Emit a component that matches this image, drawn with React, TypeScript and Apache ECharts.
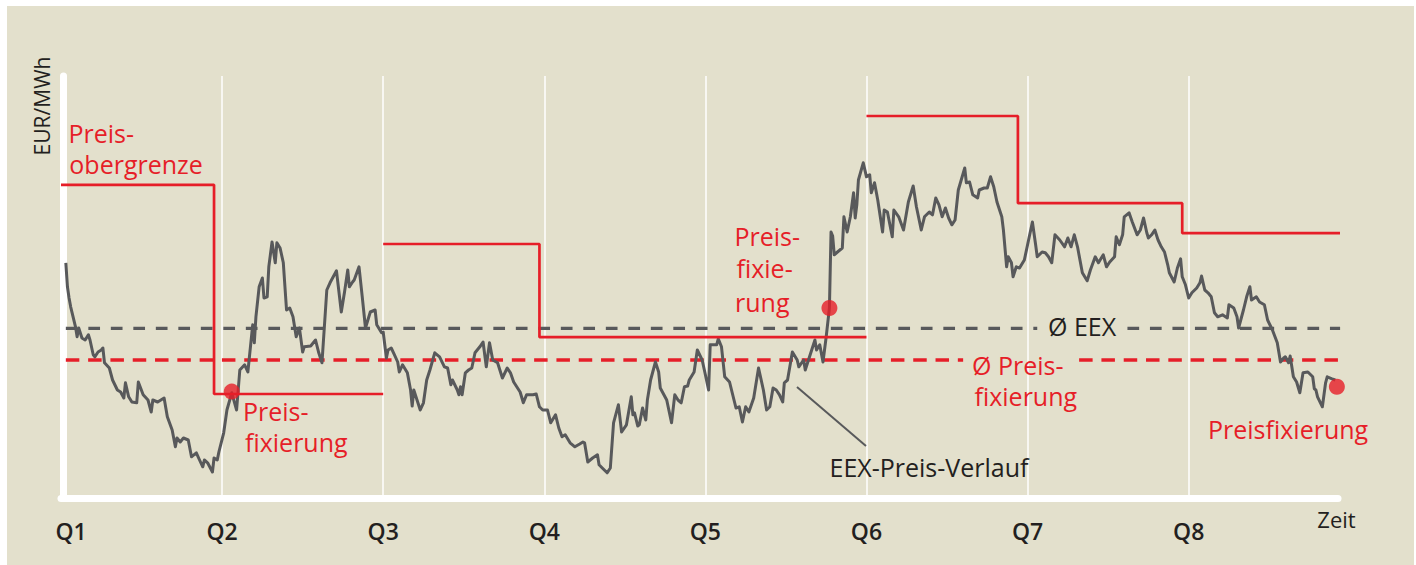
import React, { useEffect, useRef } from "react";
import * as echarts from "echarts";

// ---------- data ----------
const quarterLabels = ["Q1", "Q2", "Q3", "Q4", "Q5", "Q6", "Q7", "Q8"];

// EEX price path: [time in quarters since Q1, EUR/MWh]
const priceQ1: [number, number][] = [
  [0.03, 58.8], [0.04, 52.8], [0.05, 50], [0.06, 47.8], [0.09, 42.8], [0.1, 40.3], [0.11, 42.5], [0.13, 40],
  [0.15, 39.5], [0.17, 40.8], [0.18, 39.5], [0.2, 35.8], [0.21, 35.3], [0.23, 36.5], [0.25, 37], [0.26, 37.5],
  [0.27, 33.8], [0.3, 32.5], [0.32, 29.5], [0.35, 27], [0.37, 26.5], [0.39, 25], [0.4, 28.8], [0.42, 25.3],
  [0.44, 24], [0.47, 23.8], [0.48, 29], [0.51, 25.8], [0.54, 24.5], [0.56, 21.5], [0.57, 24.5], [0.6, 24],
  [0.64, 25], [0.66, 20.3], [0.69, 17], [0.71, 12.8], [0.72, 15], [0.74, 14], [0.76, 15], [0.79, 14.5],
  [0.81, 10.3], [0.84, 11.3], [0.86, 9.5], [0.88, 7.8], [0.89, 9.5], [0.91, 8.8], [0.94, 6.5], [0.95, 10],
  [0.97, 9.5], [0.98, 11.5],
];
const priceQ2: [number, number][] = [
  [1.01, 16.3], [1.03, 22], [1.06, 26.3], [1.09, 22], [1.11, 32], [1.14, 33.3], [1.16, 31.5], [1.19, 43.3],
  [1.2, 38.8], [1.21, 45.3], [1.23, 52.8], [1.25, 55], [1.26, 50], [1.28, 50.3], [1.29, 57.8], [1.31, 64],
  [1.33, 58.8], [1.34, 63.8], [1.36, 62.5], [1.38, 58.8], [1.4, 47], [1.42, 47.5], [1.44, 45.3], [1.46, 40.3],
  [1.48, 42.5], [1.5, 36.5], [1.51, 37.8], [1.55, 38], [1.58, 39.5], [1.6, 36.3], [1.62, 33.8], [1.65, 52],
  [1.67, 53.8], [1.71, 56.8], [1.74, 46.5], [1.76, 51.5], [1.78, 57], [1.79, 52.8], [1.81, 54], [1.82, 54.5],
  [1.85, 57.8], [1.87, 50.3], [1.89, 42.5], [1.92, 46.5], [1.95, 47], [1.96, 43.3], [1.99, 41.3], [2.0, 41.5],
];
const priceQ3: [number, number][] = [
  [2.02, 35], [2.03, 37], [2.05, 37.5], [2.07, 35.8], [2.09, 34], [2.1, 31.5], [2.12, 33.3], [2.15, 31.3],
  [2.17, 27], [2.18, 23], [2.19, 27], [2.21, 24.5], [2.23, 22], [2.25, 23.8], [2.27, 29.5], [2.29, 32],
  [2.32, 36.3], [2.35, 35.3], [2.38, 32.8], [2.4, 32.5], [2.42, 28.3], [2.43, 29.5], [2.46, 27], [2.47, 25.8],
  [2.48, 27.8], [2.49, 25.8], [2.51, 31.3], [2.53, 32], [2.55, 32.5], [2.57, 36.3], [2.6, 37.8], [2.62, 39],
  [2.64, 32.8], [2.66, 38.8], [2.68, 34.5], [2.71, 33.8], [2.74, 30], [2.77, 32.5], [2.79, 31.3], [2.81, 29],
  [2.85, 26.5], [2.87, 23.8], [2.89, 25.8], [2.93, 25.8], [2.95, 26], [2.97, 22.8], [2.99, 22],
];
const priceQ4: [number, number][] = [
  [3.02, 22], [3.04, 18.8], [3.07, 20.8], [3.09, 17.5], [3.11, 15.3], [3.13, 15.8], [3.16, 13.8], [3.19, 12.8],
  [3.22, 13.5], [3.24, 14], [3.25, 13.8], [3.27, 9], [3.3, 10], [3.33, 10.8], [3.34, 8.3], [3.36, 7.5],
  [3.39, 6.3], [3.41, 7.5], [3.43, 18.8], [3.46, 23.3], [3.48, 16.5], [3.51, 18.3], [3.54, 25.3], [3.55, 20.8],
  [3.56, 21.3], [3.58, 18], [3.59, 18.3], [3.61, 22.5], [3.63, 19.5], [3.64, 24.5], [3.66, 29.5], [3.69, 34],
  [3.71, 31.5], [3.72, 27.5], [3.76, 24.5], [3.79, 18.8], [3.81, 25.8], [3.83, 24.5], [3.85, 23.8], [3.87, 27.8],
  [3.89, 28], [3.9, 29.5], [3.93, 31.5], [3.95, 37], [3.98, 34.5], [4.0, 30.8],
];
const priceQ5: [number, number][] = [
  [4.02, 27], [4.03, 38.3], [4.07, 38.3], [4.08, 39.8], [4.1, 37.8], [4.12, 30.3], [4.15, 29], [4.19, 22.5],
  [4.21, 22.8], [4.23, 19], [4.25, 22.8], [4.27, 21.5], [4.3, 25], [4.33, 32.5], [4.36, 27], [4.38, 22],
  [4.4, 22.8], [4.42, 27.5], [4.44, 27], [4.46, 25.8], [4.48, 24], [4.49, 28.8], [4.51, 29.5], [4.54, 36.5],
  [4.57, 34.5], [4.58, 32.8], [4.61, 34.5], [4.62, 32], [4.64, 34.5], [4.66, 37], [4.68, 39.5], [4.69, 37],
  [4.71, 38.3], [4.73, 34], [4.75, 40.3], [4.77, 47.5], [4.78, 66.5], [4.79, 65.5], [4.8, 60.8], [4.82, 61.5],
  [4.85, 62.5], [4.86, 70.3], [4.88, 66.5], [4.9, 70.3], [4.92, 76.3], [4.93, 70], [4.94, 73.3], [4.95, 79.5],
  [4.98, 83.8], [5.0, 80.3],
];
const priceQ6: [number, number][] = [
  [5.02, 80.8], [5.03, 76.3], [5.05, 78.8], [5.07, 74.5], [5.1, 66.5], [5.11, 72], [5.13, 71.5], [5.16, 65.3],
  [5.17, 72], [5.2, 70.3], [5.23, 67], [5.26, 74], [5.29, 78], [5.31, 72.8], [5.34, 67], [5.36, 70.3],
  [5.39, 71.5], [5.41, 70.8], [5.43, 75], [5.45, 73.3], [5.47, 70.3], [5.49, 72.5], [5.51, 70], [5.53, 68.3],
  [5.55, 69.5], [5.57, 77], [5.61, 82.5], [5.62, 78.8], [5.64, 79], [5.66, 75.8], [5.69, 75], [5.7, 77],
  [5.73, 77.5], [5.75, 77.5], [5.77, 80.3], [5.79, 77.8], [5.81, 74], [5.84, 70.3], [5.85, 67], [5.87, 57.8],
  [5.88, 60.3], [5.9, 58.8], [5.91, 55.3], [5.93, 57.8], [5.95, 57.5], [5.98, 59.5], [6.0, 63.3],
];
const priceQ7: [number, number][] = [
  [6.03, 69], [6.05, 63.3], [6.06, 60.3], [6.09, 61.5], [6.11, 61.3], [6.13, 60.3], [6.15, 58.8], [6.17, 65.8],
  [6.2, 64.5], [6.23, 62.8], [6.25, 65], [6.27, 62.8], [6.29, 65.8], [6.31, 62.8], [6.34, 56.3], [6.37, 54.3],
  [6.39, 57], [6.42, 60.3], [6.44, 58.8], [6.47, 60.8], [6.49, 57.8], [6.51, 59], [6.54, 60.3], [6.55, 65.3],
  [6.57, 63.3], [6.59, 65.8], [6.6, 70.3], [6.63, 71.3], [6.65, 69], [6.68, 65.8], [6.7, 67], [6.72, 70],
  [6.74, 66.3], [6.75, 65], [6.77, 65.8], [6.79, 67], [6.81, 64.5], [6.83, 62.8], [6.85, 61.5], [6.87, 58.3],
  [6.88, 56.3], [6.91, 54], [6.93, 57.5], [6.95, 59.8], [6.96, 55.3], [6.98, 53.3], [7.0, 50],
];
const priceQ8: [number, number][] = [
  [7.02, 51.3], [7.05, 52.5], [7.07, 53.8], [7.08, 55.5], [7.1, 52], [7.12, 51.3], [7.14, 50.3], [7.16, 46.3],
  [7.18, 45.3], [7.21, 45.8], [7.24, 45], [7.25, 48.3], [7.28, 47.5], [7.3, 45.3], [7.31, 42.5], [7.34, 47],
  [7.36, 50.3], [7.38, 52.8], [7.39, 49.5], [7.42, 50.3], [7.44, 49], [7.47, 48.3], [7.49, 44.5], [7.52, 42],
  [7.55, 38.8], [7.57, 34], [7.59, 35], [7.6, 35.3], [7.62, 33.8], [7.63, 35.5], [7.65, 30.3], [7.67, 29],
  [7.69, 26.3], [7.71, 31.3], [7.74, 31.5], [7.77, 30.3], [7.78, 27.3], [7.79, 27], [7.8, 25.3], [7.83, 22.8],
  [7.85, 28.8], [7.86, 30.3], [7.89, 29.8], [7.91, 29.5],
];

// Price cap (Preisobergrenze): change times and levels per contract block
const capTimes = [[0, 0.95, 2.0], [2.0, 2.97, 5.0], [5.0, 5.94, 6.96, 7.94]];
const capLevels = [[78.3, 26.0], [63.5, 40.2], [95.5, 73.7, 66.2]];

// Price fixings
const fixTimes = [1.06, 4.77, 7.92];
const fixValues = [26.6, 47.5, 27.8];

// Averages
const eexAverage = 42.4;
const fixAverage = 34.5;
const eexDashRanges = [[0.03, 6.06], [6.62, 7.94]];
const fixDashRanges = [[0.03, 5.6], [6.32, 7.94]];

const timeMax = 7.927;
const priceMax = 105.5;

// ---------- styles ----------
const FONT = "'Open Sans', sans-serif";
const RED = "#e61e28";
const GRAY = "#58595b";
const DARK = "#231f20";
const BEIGE = "#e3e0cc";

function redText(text: string, x: number, y: number) {
  return {
    type: "text",
    x,
    y,
    z: 100,
    style: { text, fill: RED, fontSize: 25, fontWeight: 500, fontFamily: FONT, align: "left", verticalAlign: "middle" },
  };
}
function darkText(text: string, x: number, y: number) {
  return {
    type: "text",
    x,
    y,
    z: 100,
    style: { text, fill: DARK, fontSize: 25, fontWeight: 500, fontFamily: FONT, align: "left", verticalAlign: "middle" },
  };
}

export default function App() {
  const ref = useRef<HTMLDivElement>(null);
  useEffect(() => {
    if (!ref.current) return;
    const chart = echarts.init(ref.current, null, { renderer: "svg" });
    const price = [...priceQ1, ...priceQ2, ...priceQ3, ...priceQ4, ...priceQ5, ...priceQ6, ...priceQ7, ...priceQ8];

    const capSeries = capTimes.map((times, i) => {
      const levels = capLevels[i];
      const data = times.map((t, j) => [t, levels[Math.min(j, levels.length - 1)]]);
      return {
        type: "line",
        data,
        step: "end",
        symbol: "none",
        clip: false,
        z: 4,
        lineStyle: { color: RED, width: 2.7 },
      };
    });
    const eexSeries = eexDashRanges.map((r) => ({
      type: "line",
      data: [[r[0], eexAverage], [r[1], eexAverage]],
      symbol: "none",
      clip: false,
      z: 2,
      lineStyle: { color: GRAY, width: 3.4, type: [11.7, 10.8] },
    }));
    const fixSeries = fixDashRanges.map((r) => ({
      type: "line",
      data: [[r[0], fixAverage], [r[1], fixAverage]],
      symbol: "none",
      clip: false,
      z: 2,
      lineStyle: { color: RED, width: 3.4, type: [13.5, 8.8] },
    }));

    chart.setOption({
      animation: false,
      backgroundColor: "#ffffff",
      grid: { left: 61, top: 76, width: 1277, height: 422, containLabel: false },
      xAxis: {
        type: "value",
        min: 0,
        max: timeMax,
        interval: 1,
        axisLine: { show: true, lineStyle: { color: "#ffffff", width: 7 } },
        axisTick: { show: false },
        splitLine: { show: true, showMinLine: false, showMaxLine: false, lineStyle: { color: "#ffffff", width: 1.5 } },
        axisLabel: {
          show: true,
          showMaxLabel: false,
          margin: 33,
          verticalAlign: "middle",
          color: DARK,
          fontSize: 23,
          fontWeight: 600,
          fontFamily: FONT,
          formatter: (v: number) => {
            if (Math.abs(v - Math.round(v)) > 1e-6) return "";
            const i = Math.round(v);
            if (i === 0) return "{first|" + quarterLabels[0] + "}";
            return quarterLabels[i] ?? "";
          },
          rich: {
            first: { padding: [0, 0, 0, 20], color: DARK, fontSize: 23, fontWeight: 600, fontFamily: FONT },
          },
        },
      },
      yAxis: {
        type: "value",
        min: 0,
        max: priceMax,
        offset: -2,
        axisLine: { show: true, lineStyle: { color: "#ffffff", width: 7 } },
        axisTick: { show: false },
        axisLabel: { show: false },
        splitLine: { show: false },
      },
      series: [
        ...eexSeries,
        ...fixSeries,
        {
          type: "line",
          data: price,
          symbol: "none",
          clip: false,
          z: 3,
          lineStyle: { color: GRAY, width: 3, join: "round" },
        },
        ...capSeries,
        {
          type: "scatter",
          data: fixTimes.map((t, i) => [t, fixValues[i]]),
          symbol: "circle",
          symbolSize: 16,
          clip: false,
          z: 6,
          itemStyle: { color: RED },
        },
      ],
      graphic: [
        { type: "rect", z: -10, shape: { x: 7, y: 6, width: 1407, height: 559 }, style: { fill: BEIGE } },
        {
          type: "text",
          x: 41.5,
          y: 106,
          rotation: Math.PI / 2,
          z: 100,
          style: { text: "EUR/MWh", fill: DARK, fontSize: 21, fontWeight: 500, fontFamily: FONT, align: "center", verticalAlign: "middle" },
        },
        {
          type: "text",
          x: 1336.5,
          y: 519,
          z: 100,
          style: { text: "Zeit", fill: DARK, fontSize: 22, fontWeight: 500, fontFamily: FONT, align: "center", verticalAlign: "middle" },
        },
        redText("Preis-", 68.5, 132.7),
        redText("obergrenze", 69.3, 163.7),
        redText("Preis-", 243, 411.4),
        redText("fixierung", 245, 442.4),
        redText("Preis-", 734.5, 235.6),
        redText("fixie-", 736.5, 268.4),
        redText("rung", 735, 302.4),
        redText("Ø Preis-", 972, 364.7),
        redText("fixierung", 974.5, 395.7),
        redText("Preisfixierung", 1208, 429.4),
        darkText("Ø EEX", 1048, 326),
        darkText("EEX-Preis-Verlauf", 829.5, 467.4),
        {
          type: "line",
          z: 100,
          shape: { x1: 797, y1: 387, x2: 866, y2: 446 },
          style: { stroke: GRAY, lineWidth: 2 },
        },
      ],
    });
    return () => chart.dispose();
  }, []);
  return (
    <div
      ref={ref}
      style={{ position: "fixed", left: 0, top: 0, width: 1416, height: 565, background: "#ffffff" }}
    />
  );
}
